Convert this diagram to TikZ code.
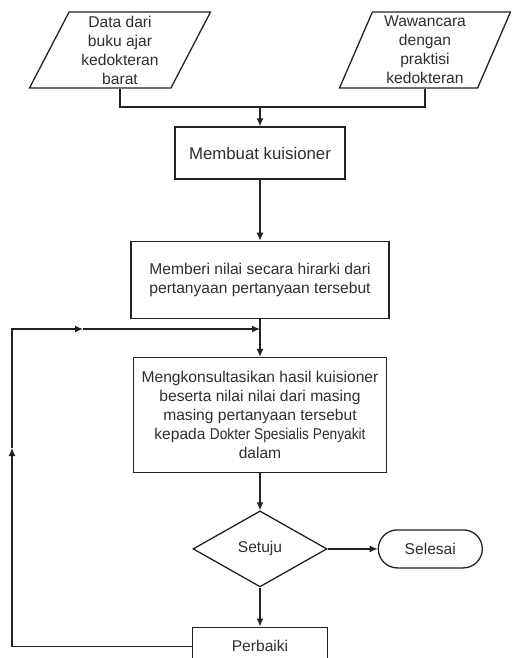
\documentclass[tikz,border=0pt]{standalone}
\usepackage{fontspec}
\setmainfont{Liberation Sans}
\usepackage{graphicx}
\usepackage{tikz}
\usetikzlibrary{arrows.meta,positioning,shapes.geometric}
\definecolor{flowline}{HTML}{222222}
\definecolor{flowtext}{HTML}{2E2E2E}
\tikzset{
every picture/.style={line join=miter},
>={Latex[length=8pt,width=7pt]},
base box/.style={
  draw=flowline,
  line width=1.3pt,
  text=flowtext,
  align=center,
  inner sep=3pt,
  font=\fontsize{15.6}{19}\selectfont
},
io box/.style={
  base box,
  trapezium,
  trapezium stretches body=true,
  minimum height=76pt
},
proc box/.style={base box},
decision box/.style={base box, diamond, minimum width=134pt, minimum height=76pt},
end box/.style={base box, rounded corners=19pt, minimum width=104pt, minimum height=38pt},
flow/.style={draw=flowline, line width=1.3pt, ->},
link/.style={draw=flowline, line width=1.3pt}
}

\begin{document}
\begin{tikzpicture}[x=1pt,y=1pt]
\useasboundingbox (0,0) rectangle (511,-658);
\clip (0,0) rectangle (511,-658);
% inputs
\node[io box, minimum width=181pt, trapezium left angle=62, trapezium right angle=118] (buku) at (120,-50) {Data dari\\buku ajar\\kedokteran\\barat};
\node[io box, minimum width=171pt, trapezium left angle=66, trapezium right angle=114] (wawan) at (425,-50) {Wawancara\\dengan\\praktisi\\kedokteran};
% main flow
\node[proc box, minimum width=170pt, minimum height=52pt, font=\fontsize{16.8}{19}\selectfont] (kuis) at (260,-153) {Membuat kuisioner};
\node[proc box, below=61pt of kuis, minimum width=258pt, minimum height=77pt] (nilai) {Memberi nilai secara hirarki dari\\pertanyaan pertanyaan tersebut};
\node[proc box, below=38pt of nilai, minimum width=253pt, minimum height=115pt] (konsul) {Mengkonsultasikan hasil kuisioner\\beserta nilai nilai dari masing\\masing pertanyaan tersebut\\kepada \scalebox{0.88}[1]{Dokter Spesialis Penyakit}\\dalam};
\node[decision box, below=37pt of konsul] (setuju) {Setuju};
\node[end box, right=50pt of setuju] (selesai) {Selesai};
\node[proc box, below=39pt of setuju, minimum width=135pt, minimum height=38pt] (perbaiki) {Perbaiki};
% joins
\coordinate (gabung) at (260,-107);
\coordinate (balik) at (12,-448);
\coordinate (balikatas) at (83,-329);
\coordinate (masuk) at (260,-329);
\draw[link] (buku.south) |- (gabung);
\draw[link] (wawan.south) |- (gabung);
\draw[flow] (gabung) -- (kuis);
\draw[flow] (kuis) -- (nilai);
\draw[flow] (nilai) -- (konsul);
\draw[flow] (konsul) -- (setuju);
\draw[flow] (setuju) -- (selesai);
\draw[flow] (setuju) -- (perbaiki);
% loop back
\draw[flow] (perbaiki.west) -| (balik);
\draw[flow] (balik) |- (balikatas);
\draw[flow] (balikatas) -- (masuk);
\end{tikzpicture}
\end{document}
